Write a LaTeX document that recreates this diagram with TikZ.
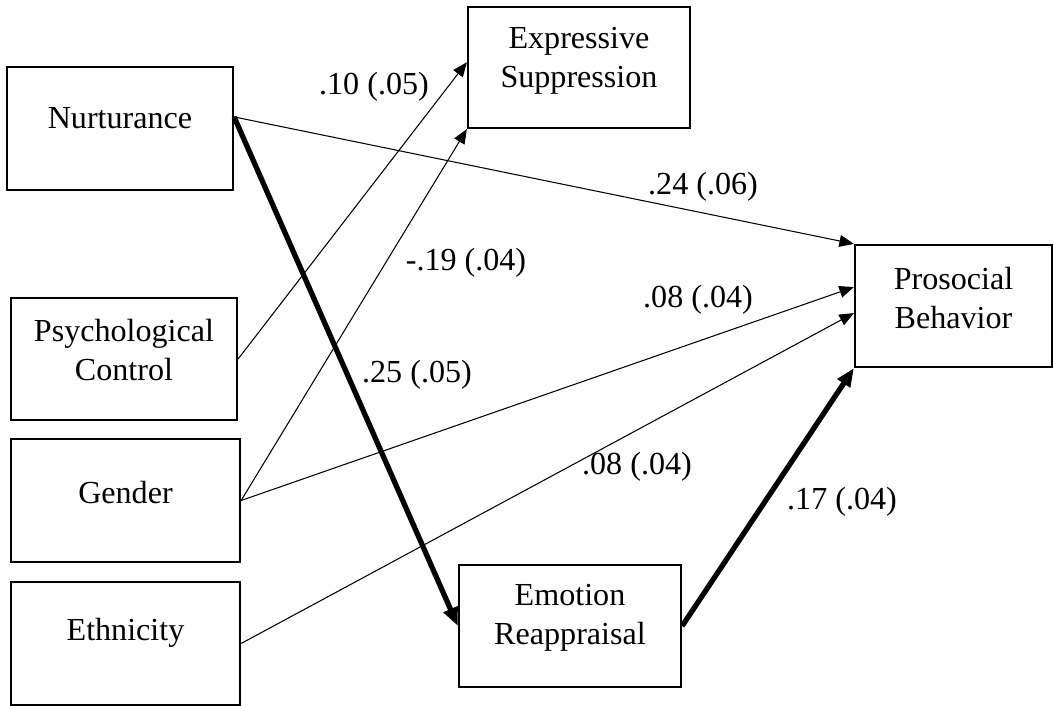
\documentclass[tikz,border=0pt]{standalone}
\usepackage{fontspec}
\setmainfont{Liberation Serif}
\usepackage{tikz}
\usetikzlibrary{arrows.meta,positioning}

\newcommand{\px}{0.38pt}
\tikzset{
  box/.style={draw=black, line width=0.85pt, rectangle, inner sep=0pt},
  txt/.style={align=center, font=\fontsize{12.2}{15}\selectfont, inner sep=0pt},
  coef/.style={font=\fontsize{12.2}{14}\selectfont, inner sep=0pt},
  path thin/.style={line width=0.4pt, -{Triangle[length=5.5pt,width=4.5pt]}},
  path thick/.style={line width=2pt, -{Triangle[length=7pt,width=5.5pt]}}
}

\begin{document}
\begin{tikzpicture}[x=0.38pt, y=-0.38pt]
   \useasboundingbox (0,0) rectangle (1054,706);

   % boxes
   \node[box, minimum width=226*\px, minimum height=123*\px] (nurt) at (120,128.5) {};
   \node[box, minimum width=226*\px, minimum height=122*\px] (psych) at (124,359) {};
   \node[box, minimum width=229*\px, minimum height=123*\px] (gender) at (125.5,500.5) {};
   \node[box, minimum width=229*\px, minimum height=123*\px] (ethn) at (125.5,643.5) {};
   \node[box, minimum width=222*\px, minimum height=121*\px] (supp) at (579,67.5) {};
   \node[box, minimum width=197*\px, minimum height=122*\px] (prosoc) at (953.5,306) {};
   \node[box, minimum width=222*\px, minimum height=122*\px] (reapp) at (570,626) {};

   % box texts
   \node[txt] (nurt-t) at (120,118) {Nurturance};
   \node[txt] (psych-t) at (124,350) {Psychological\\Control};
   \node[txt] (gender-t) at (125.5,493) {Gender};
   \node[txt] (ethn-t) at (125.5,633) {Ethnicity};
   \node[txt] (supp-t) at (579,61) {Expressive\\Suppression};
   \node[txt] (prosoc-t) at (953.5,298) {Prosocial\\Behavior};
   \node[txt] (reapp-t) at (570,618) {Emotion\\Reappraisal};

   % paths
   \path ([yshift=4.4pt]nurt.east) edge[path thin] (prosoc.north west)
                                   edge[path thick] (reapp.west);
   \path (psych.east) edge[path thin] ([yshift=2pt]supp.west);
   \path (gender.east) edge[path thin] (supp.south west)
                       edge[path thin] ([yshift=7.2pt]prosoc.west);
   \path (ethn.east) edge[path thin] ([yshift=-2.7pt]prosoc.west);
   \path (reapp.east) edge[path thick] (prosoc.south west);

   % coefficients
   \node[coef] (c1) at (374,87) {.10 (.05)};
   \node[coef] (c2) at (703,187) {.24 (.06)};
   \node[coef] (c3) at (466,263) {-.19 (.04)};
   \node[coef] (c4) at (698,300) {.08 (.04)};
   \node[coef] (c5) at (417,375) {.25 (.05)};
   \node[coef] (c6) at (637,467) {.08 (.04)};
   \node[coef] (c7) at (842,502) {.17 (.04)};
\end{tikzpicture}
\end{document}
